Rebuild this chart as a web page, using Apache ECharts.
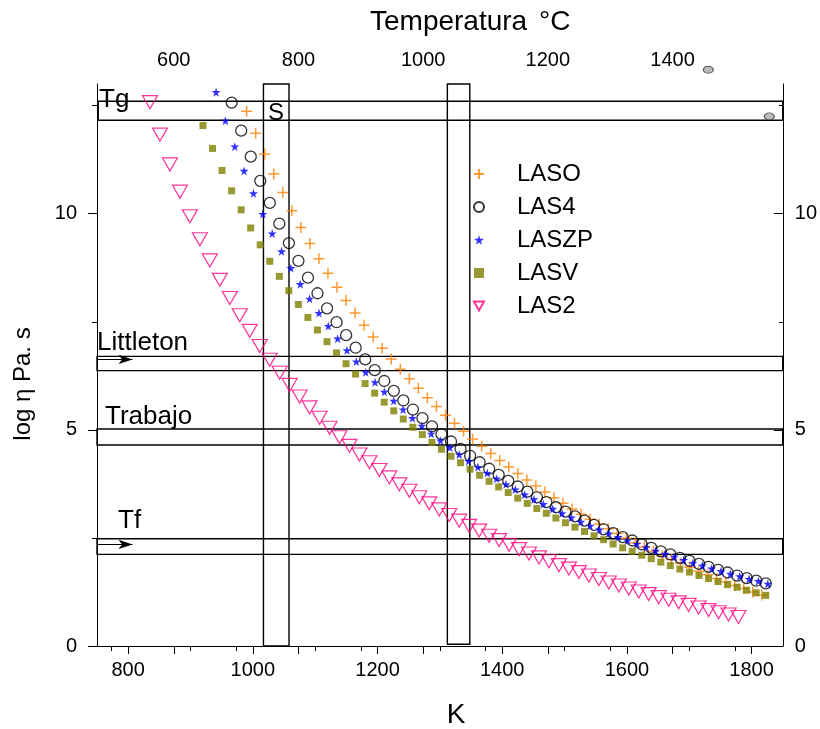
<!DOCTYPE html>
<html>
<head>
<meta charset="utf-8">
<script src="https://cdn.jsdelivr.net/npm/echarts@6/dist/echarts.min.js"></script>
<style>html,body{margin:0;padding:0;background:#fff}#c{width:820px;height:729px}</style>
</head>
<body>
<div id="c"></div>
<script>
// ---- data ----
const seriesNames = ['LASO', 'LAS4', 'LASZP', 'LASV', 'LAS2'];

const K_LASO = [990,1004.5,1019,1033.5,1048,1062.5,1077,1091.5,1106,1120.5,1135,1149.5,1164,1178.5,1193,1207.5,1222,1236.5,1251,1265.5,1280,1294.5,1309,1323.5,1338,1352.5,1367,1381.5,1396,1410.5,1425,1439.5,1454,1468.5,1483,1497.5,1512,1526.5,1541,1555.5,1570,1584.5,1599,1613.5,1628,1642.5,1657,1671.5,1686,1700.5,1715,1729.5,1744,1758.5,1773,1787.5,1802,1816.5];
const Y_LASO = [12.37,11.86,11.38,10.92,10.49,10.07,9.68,9.31,8.96,8.62,8.30,7.99,7.70,7.42,7.15,6.89,6.64,6.40,6.18,5.96,5.74,5.54,5.34,5.15,4.97,4.79,4.62,4.45,4.29,4.14,3.99,3.84,3.70,3.56,3.43,3.30,3.17,3.05,2.93,2.82,2.71,2.60,2.49,2.39,2.29,2.19,2.09,2.00,1.91,1.82,1.73,1.65,1.56,1.48,1.40,1.33,1.25,1.18];

const K_LAS4 = [966,981.3,996.6,1011.9,1027.2,1042.5,1057.8,1073.1,1088.4,1103.7,1119,1134.3,1149.6,1164.9,1180.2,1195.5,1210.8,1226.1,1241.4,1256.7,1272,1287.3,1302.6,1317.9,1333.2,1348.5,1363.8,1379.1,1394.4,1409.7,1425,1440.3,1455.6,1470.9,1486.2,1501.5,1516.8,1532.1,1547.4,1562.7,1578,1593.3,1608.6,1623.9,1639.2,1654.5,1669.8,1685.1,1700.4,1715.7,1731,1746.3,1761.6,1776.9,1792.2,1807.5,1822.8];
const Y_LAS4 = [12.57,11.92,11.32,10.76,10.25,9.77,9.32,8.91,8.52,8.16,7.81,7.49,7.19,6.90,6.63,6.38,6.13,5.90,5.68,5.47,5.27,5.08,4.90,4.73,4.56,4.40,4.25,4.10,3.96,3.82,3.69,3.57,3.44,3.33,3.21,3.11,3.00,2.90,2.80,2.70,2.61,2.52,2.44,2.35,2.27,2.19,2.12,2.04,1.97,1.90,1.83,1.76,1.70,1.63,1.57,1.51,1.45];

const K_LASZP = [941,956,971,986,1001,1016,1031,1046,1061,1076,1091,1106,1121,1136,1151,1166,1181,1196,1211,1226,1241,1256,1271,1286,1301,1316,1331,1346,1361,1376,1391,1406,1421,1436,1451,1466,1481,1496,1511,1526,1541,1556,1571,1586,1601,1616,1631,1646,1661,1676,1691,1706,1721,1736,1751,1766,1781,1796,1811,1826];
const Y_LASZP = [12.81,12.15,11.55,10.99,10.47,9.99,9.54,9.13,8.74,8.37,8.03,7.70,7.40,7.11,6.84,6.58,6.33,6.10,5.88,5.67,5.47,5.27,5.09,4.91,4.75,4.59,4.43,4.28,4.14,4.00,3.87,3.74,3.62,3.50,3.39,3.28,3.17,3.07,2.97,2.87,2.78,2.69,2.60,2.52,2.44,2.36,2.28,2.20,2.13,2.06,1.99,1.92,1.86,1.79,1.73,1.67,1.61,1.55,1.50,1.44];

const K_LASV = [920,935.3,950.6,965.9,981.2,996.5,1011.8,1027.1,1042.4,1057.7,1073,1088.3,1103.6,1118.9,1134.2,1149.5,1164.8,1180.1,1195.4,1210.7,1226,1241.3,1256.6,1271.9,1287.2,1302.5,1317.8,1333.1,1348.4,1363.7,1379,1394.3,1409.6,1424.9,1440.2,1455.5,1470.8,1486.1,1501.4,1516.7,1532,1547.3,1562.6,1577.9,1593.2,1608.5,1623.8,1639.1,1654.4,1669.7,1685,1700.3,1715.6,1730.9,1746.2,1761.5,1776.8,1792.1,1807.4,1822.7];
const Y_LASV = [12.04,11.51,11.00,10.53,10.09,9.67,9.28,8.90,8.55,8.22,7.90,7.60,7.31,7.04,6.78,6.53,6.29,6.07,5.85,5.64,5.44,5.25,5.06,4.89,4.71,4.55,4.39,4.24,4.09,3.95,3.81,3.68,3.55,3.42,3.30,3.18,3.07,2.96,2.85,2.75,2.65,2.55,2.46,2.36,2.27,2.19,2.10,2.02,1.94,1.86,1.78,1.71,1.63,1.56,1.49,1.42,1.36,1.29,1.23,1.17];

const K_LAS2 = [835,851,867,883,899,915,931,947,963,979,995,1011,1027,1043,1059,1075,1091,1107,1123,1139,1155,1171,1187,1203,1219,1235,1251,1267,1283,1299,1315,1331,1347,1363,1379,1395,1411,1427,1443,1459,1475,1491,1507,1523,1539,1555,1571,1587,1603,1619,1635,1651,1667,1683,1699,1715,1731,1747,1763,1779];
const Y_LAS2 = [12.58,11.83,11.14,10.51,9.94,9.41,8.92,8.47,8.05,7.65,7.29,6.94,6.62,6.32,6.04,5.77,5.52,5.28,5.05,4.83,4.63,4.43,4.25,4.07,3.90,3.74,3.59,3.44,3.30,3.16,3.03,2.90,2.78,2.67,2.55,2.45,2.34,2.24,2.14,2.05,1.96,1.87,1.79,1.71,1.63,1.55,1.47,1.40,1.33,1.26,1.20,1.13,1.07,1.01,0.95,0.89,0.83,0.78,0.73,0.67];

// stray grey marks in the original picture
const K_EXTRA = [1730.6, 1828.4];
const Y_EXTRA = [13.33, 12.25];

// horizontal reference bands (log eta)
const bandNames = ['Tg', 'Littleton', 'Trabajo', 'Tf'];
const bandLow  = [12.16, 6.37, 4.65, 2.12];
const bandHigh = [12.60, 6.70, 5.02, 2.48];
const bandStartK = [752, 750, 750, 750];
// vertical reference regions (K)
const sRegion = [1017, 1058];
const boxRegion = [1312, 1348];
const boxBottom = 0.04;
// arrows
const arrowY = [6.63, 2.35];
const arrowEndK = 807;

// axes
const kRange = [750, 1850];
const cOffset = 273.15;
const kMajor = [800, 1000, 1200, 1400, 1600, 1800];
const kMinor = [900, 1100, 1300, 1500, 1700];
const cMajor = [600, 800, 1000, 1200, 1400];
const cMinor = [500, 700, 900, 1100, 1300, 1500];
const yRange = [0, 13];
const yMajor = [0, 5, 10];
const yMinor = [2.5, 7.5, 12.5];

// ---- chart ----
const FONT = '"Liberation Sans", Arial, sans-serif';
const zip = (a, b) => a.map((v, i) => [v, b[i]]);
const chart = echarts.init(document.getElementById('c'), null, {renderer: 'canvas'});

const lineBlack = {show: true, lineStyle: {color: '#000', width: 1}};
const lbl = {fontSize: 20, color: '#000', fontFamily: FONT, formatter: v => String(v)};

function ax(grid, pos, min, max, vals, len, inside, labels, showLine, margin) {
  return {
    type: 'value', gridIndex: grid, position: pos, min: min, max: max,
    axisLine: showLine ? lineBlack : {show: false},
    axisTick: {show: true, customValues: vals, length: len, inside: inside, lineStyle: {color: '#000', width: 1}},
    axisLabel: labels ? Object.assign({show: true, customValues: vals, margin: margin}, lbl) : {show: false},
    splitLine: {show: false}
  };
}

const plus = 'path://M0,6L12,6M6,0L6,12';
const star = 'path://M5,0L6.2,3.6L10,3.6L6.9,5.9L8.1,9.5L5,7.3L1.9,9.5L3.1,5.9L0,3.6L3.8,3.6Z';
const invTri = 'path://M0,0L10,0L5,9Z';

const markAreas = bandNames.map((n, i) => [{coord: [bandStartK[i], bandLow[i]]}, {coord: [kRange[1], bandHigh[i]]}]);
markAreas.push([{coord: [sRegion[0], yRange[0]]}, {coord: [sRegion[1], yRange[1]]}]);
markAreas.push([{coord: [boxRegion[0], boxBottom]}, {coord: [boxRegion[1], yRange[1]]}]);

const gridBox = {left: 97, top: 84, width: 686, height: 562, containLabel: false};

const option = {
  animation: false,
  backgroundColor: '#fff',
  grid: [Object.assign({}, gridBox), Object.assign({}, gridBox)],
  xAxis: [
    ax(0, 'bottom', kRange[0], kRange[1], kMajor, 8, false, true, true, 14),
    ax(0, 'top', kRange[0] - cOffset, kRange[1] - cOffset, cMajor, 8, true, true, true, 14),
    ax(1, 'bottom', kRange[0], kRange[1], kMinor, 5, false, false, false),
    ax(1, 'top', kRange[0] - cOffset, kRange[1] - cOffset, cMinor, 5, true, false, false)
  ],
  yAxis: [
    ax(0, 'left', yRange[0], yRange[1], yMajor, 9, false, true, true, 20),
    ax(0, 'right', yRange[0], yRange[1], yMajor, 9, true, true, true, 12),
    ax(1, 'left', yRange[0], yRange[1], yMinor, 5, false, false, false),
    ax(1, 'right', yRange[0], yRange[1], yMinor, 4, true, false, false)
  ],
  legend: {
    data: seriesNames,
    orient: 'vertical', left: 473, top: 161, padding: 0,
    itemWidth: 10, itemHeight: 10, itemGap: 7,
    textStyle: {fontSize: 24, fontFamily: FONT, color: '#000', lineHeight: 26, padding: [0, 0, 0, 28]},
    selectedMode: false
  },
  series: [
    {name: 'refs', type: 'scatter', xAxisIndex: 0, yAxisIndex: 0, data: [], silent: true, z: 1,
     markArea: {silent: true, itemStyle: {color: 'rgba(0,0,0,0)', borderColor: '#000', borderWidth: 1.4}, label: {show: false}, data: markAreas},
     markLine: {silent: true, symbol: ['none', 'arrow'], symbolSize: [7, 14], label: {show: false},
       lineStyle: {color: '#000', width: 1, type: 'solid'},
       data: arrowY.map(v => [{coord: [kRange[0], v]}, {coord: [arrowEndK, v]}])}
    },
    {name: 'LASO', type: 'scatter', xAxisIndex: 0, yAxisIndex: 0, data: zip(K_LASO, Y_LASO), symbol: plus, symbolSize: 11, z: 3,
     itemStyle: {color: '#FF8000', borderColor: '#FF8000', borderWidth: 1.5}},
    {name: 'LAS4', type: 'scatter', xAxisIndex: 0, yAxisIndex: 0, data: zip(K_LAS4, Y_LAS4), symbol: 'circle', symbolSize: 11, z: 3,
     itemStyle: {color: 'rgba(255,255,255,0)', borderColor: '#000', borderWidth: 1.3}},
    {name: 'LASZP', type: 'scatter', xAxisIndex: 0, yAxisIndex: 0, data: zip(K_LASZP, Y_LASZP), symbol: star, symbolSize: 9, z: 3,
     itemStyle: {color: '#0000FF'}},
    {name: 'LASV', type: 'scatter', xAxisIndex: 0, yAxisIndex: 0, data: zip(K_LASV, Y_LASV), symbol: 'rect', symbolSize: 7, z: 3,
     itemStyle: {color: '#808000'}},
    {name: 'LAS2', type: 'scatter', xAxisIndex: 0, yAxisIndex: 0, data: zip(K_LAS2, Y_LAS2), symbol: invTri, symbolSize: [15, 13], z: 3,
     itemStyle: {color: 'rgba(255,255,255,0)', borderColor: '#FF0080', borderWidth: 1.2}},
    {name: 'extra', type: 'scatter', xAxisIndex: 0, yAxisIndex: 0, data: zip(K_EXTRA, Y_EXTRA), symbol: 'circle', symbolSize: [10, 7], clip: false, z: 3,
     itemStyle: {color: '#aaa', borderColor: '#333', borderWidth: 1}}
  ],
  graphic: [
    {type: 'text', x: 370, y: 22, style: {text: 'Temperatura', font: '28px ' + FONT, fill: '#000', align: 'left', verticalAlign: 'middle'}},
    {type: 'text', x: 539, y: 22, style: {text: '°C', font: '28px ' + FONT, fill: '#000', align: 'left', verticalAlign: 'middle'}},
    {type: 'text', x: 456, y: 715, style: {text: 'K', font: '28px ' + FONT, fill: '#000', align: 'center', verticalAlign: 'middle'}},
    {type: 'text', x: 23, y: 384, rotation: Math.PI / 2, style: {text: 'log η Pa. s', font: '24px ' + FONT, fill: '#000', align: 'center', verticalAlign: 'middle'}},
    {type: 'text', x: 99, y: 100, style: {text: 'Tg', font: '26px ' + FONT, fill: '#000', align: 'left', verticalAlign: 'middle'}},
    {type: 'text', x: 268, y: 113, style: {text: 'S', font: '24px ' + FONT, fill: '#000', align: 'left', verticalAlign: 'middle'}},
    {type: 'text', x: 97, y: 343, style: {text: 'Littleton', font: '26px ' + FONT, fill: '#000', align: 'left', verticalAlign: 'middle'}},
    {type: 'text', x: 105, y: 417, style: {text: 'Trabajo', font: '26px ' + FONT, fill: '#000', align: 'left', verticalAlign: 'middle'}},
    {type: 'text', x: 118, y: 521, style: {text: 'Tf', font: '26px ' + FONT, fill: '#000', align: 'left', verticalAlign: 'middle'}}
  ]
};
chart.setOption(option);
</script>
</body>
</html>
